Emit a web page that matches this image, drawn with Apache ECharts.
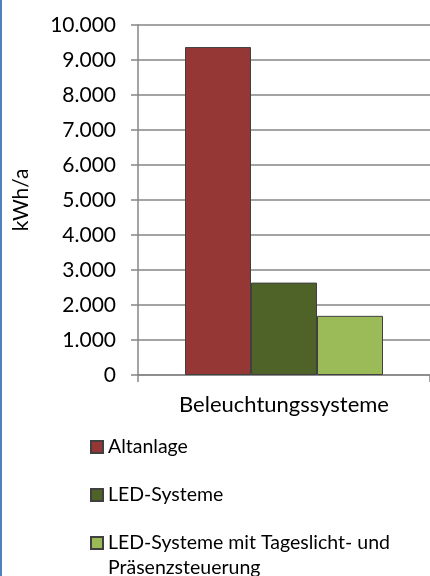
<!DOCTYPE html>
<html>
<head>
<meta charset="utf-8">
<script src="https://cdn.jsdelivr.net/npm/echarts@6/dist/echarts.min.js"></script>
<style>
html,body{margin:0;padding:0;background:#fff;}
#c{width:430px;height:576px;}
</style>
</head>
<body>
<div id="c"></div>
<script>
var categories = ['Beleuchtungssysteme'];
var seriesNames = ['Altanlage', 'LED-Systeme', 'LED-Systeme mit Tageslicht- und Präsenzsteuerung'];
var altanlage = [9370];
var ledSysteme = [2640];
var ledSteuerung = [1690];
var yAxisTitle = 'kWh/a';
var yMin = 0, yMax = 10000, yStep = 1000;

var FONT = 'Lato';
var FS = 21;
var colors = ['#953735', '#4F6228', '#9BBB59'];
var values = [altanlage, ledSysteme, ledSteuerung];

var chart = echarts.init(document.getElementById('c'), null, {renderer: 'canvas'});

function fmt(v) {
  return String(v).replace(/\B(?=(\d{3})+(?!\d))/g, '.');
}

var series = seriesNames.map(function (n, i) {
  return {
    name: n,
    type: 'bar',
    data: values[i],
    barWidth: 66,
    barGap: '0%',
    itemStyle: {color: colors[i], borderColor: '#404040', borderWidth: 1},
    animation: false
  };
});

var legendText = {fontFamily: FONT, fontSize: 19.5, color: '#000', lineHeight: 25};

chart.setOption({
  animation: false,
  graphic: [{
    type: 'rect', left: 0, top: 0,
    shape: {width: 2, height: 576},
    style: {fill: '#4F81BD'}, silent: true
  }],
  grid: {left: 138, top: 25, width: 296, height: 350, containLabel: false},
  xAxis: {
    type: 'category',
    data: categories,
    axisLine: {lineStyle: {color: '#868686', width: 1.5}},
    axisTick: {show: true, length: 7, lineStyle: {color: '#868686', width: 1.5}},
    axisLabel: {fontFamily: FONT, fontSize: 22, color: '#000', margin: 19},
    splitLine: {show: false}
  },
  yAxis: {
    type: 'value',
    min: yMin, max: yMax, interval: yStep,
    name: yAxisTitle,
    nameLocation: 'middle',
    nameRotate: 90,
    nameGap: 106,
    nameTextStyle: {fontFamily: FONT, fontSize: FS, color: '#000'},
    axisLine: {show: true, lineStyle: {color: '#868686', width: 1.5}},
    axisTick: {show: true, length: 7, lineStyle: {color: '#868686', width: 1.5}},
    axisLabel: {fontFamily: FONT, fontSize: FS, color: '#000', margin: 22, formatter: fmt},
    splitLine: {show: true, lineStyle: {color: '#868686', width: 1.5}}
  },
  legend: [{
    orient: 'vertical',
    left: 90, top: 434.5,
    padding: 0,
    itemGap: 23,
    itemWidth: 12, itemHeight: 12,
    icon: 'rect',
    selectedMode: false,
    textStyle: legendText,
    data: [seriesNames[0], seriesNames[1]]
  }, {
    orient: 'vertical',
    left: 90, top: 505.5,
    padding: 0,
    itemWidth: 12, itemHeight: 12,
    icon: 'rect',
    selectedMode: false,
    textStyle: legendText,
    formatter: function () { return '\nLED-Systeme mit Tageslicht- und\nPräsenzsteuerung'; },
    data: [seriesNames[2]]
  }],
  series: series
});
</script>
</body>
</html>
